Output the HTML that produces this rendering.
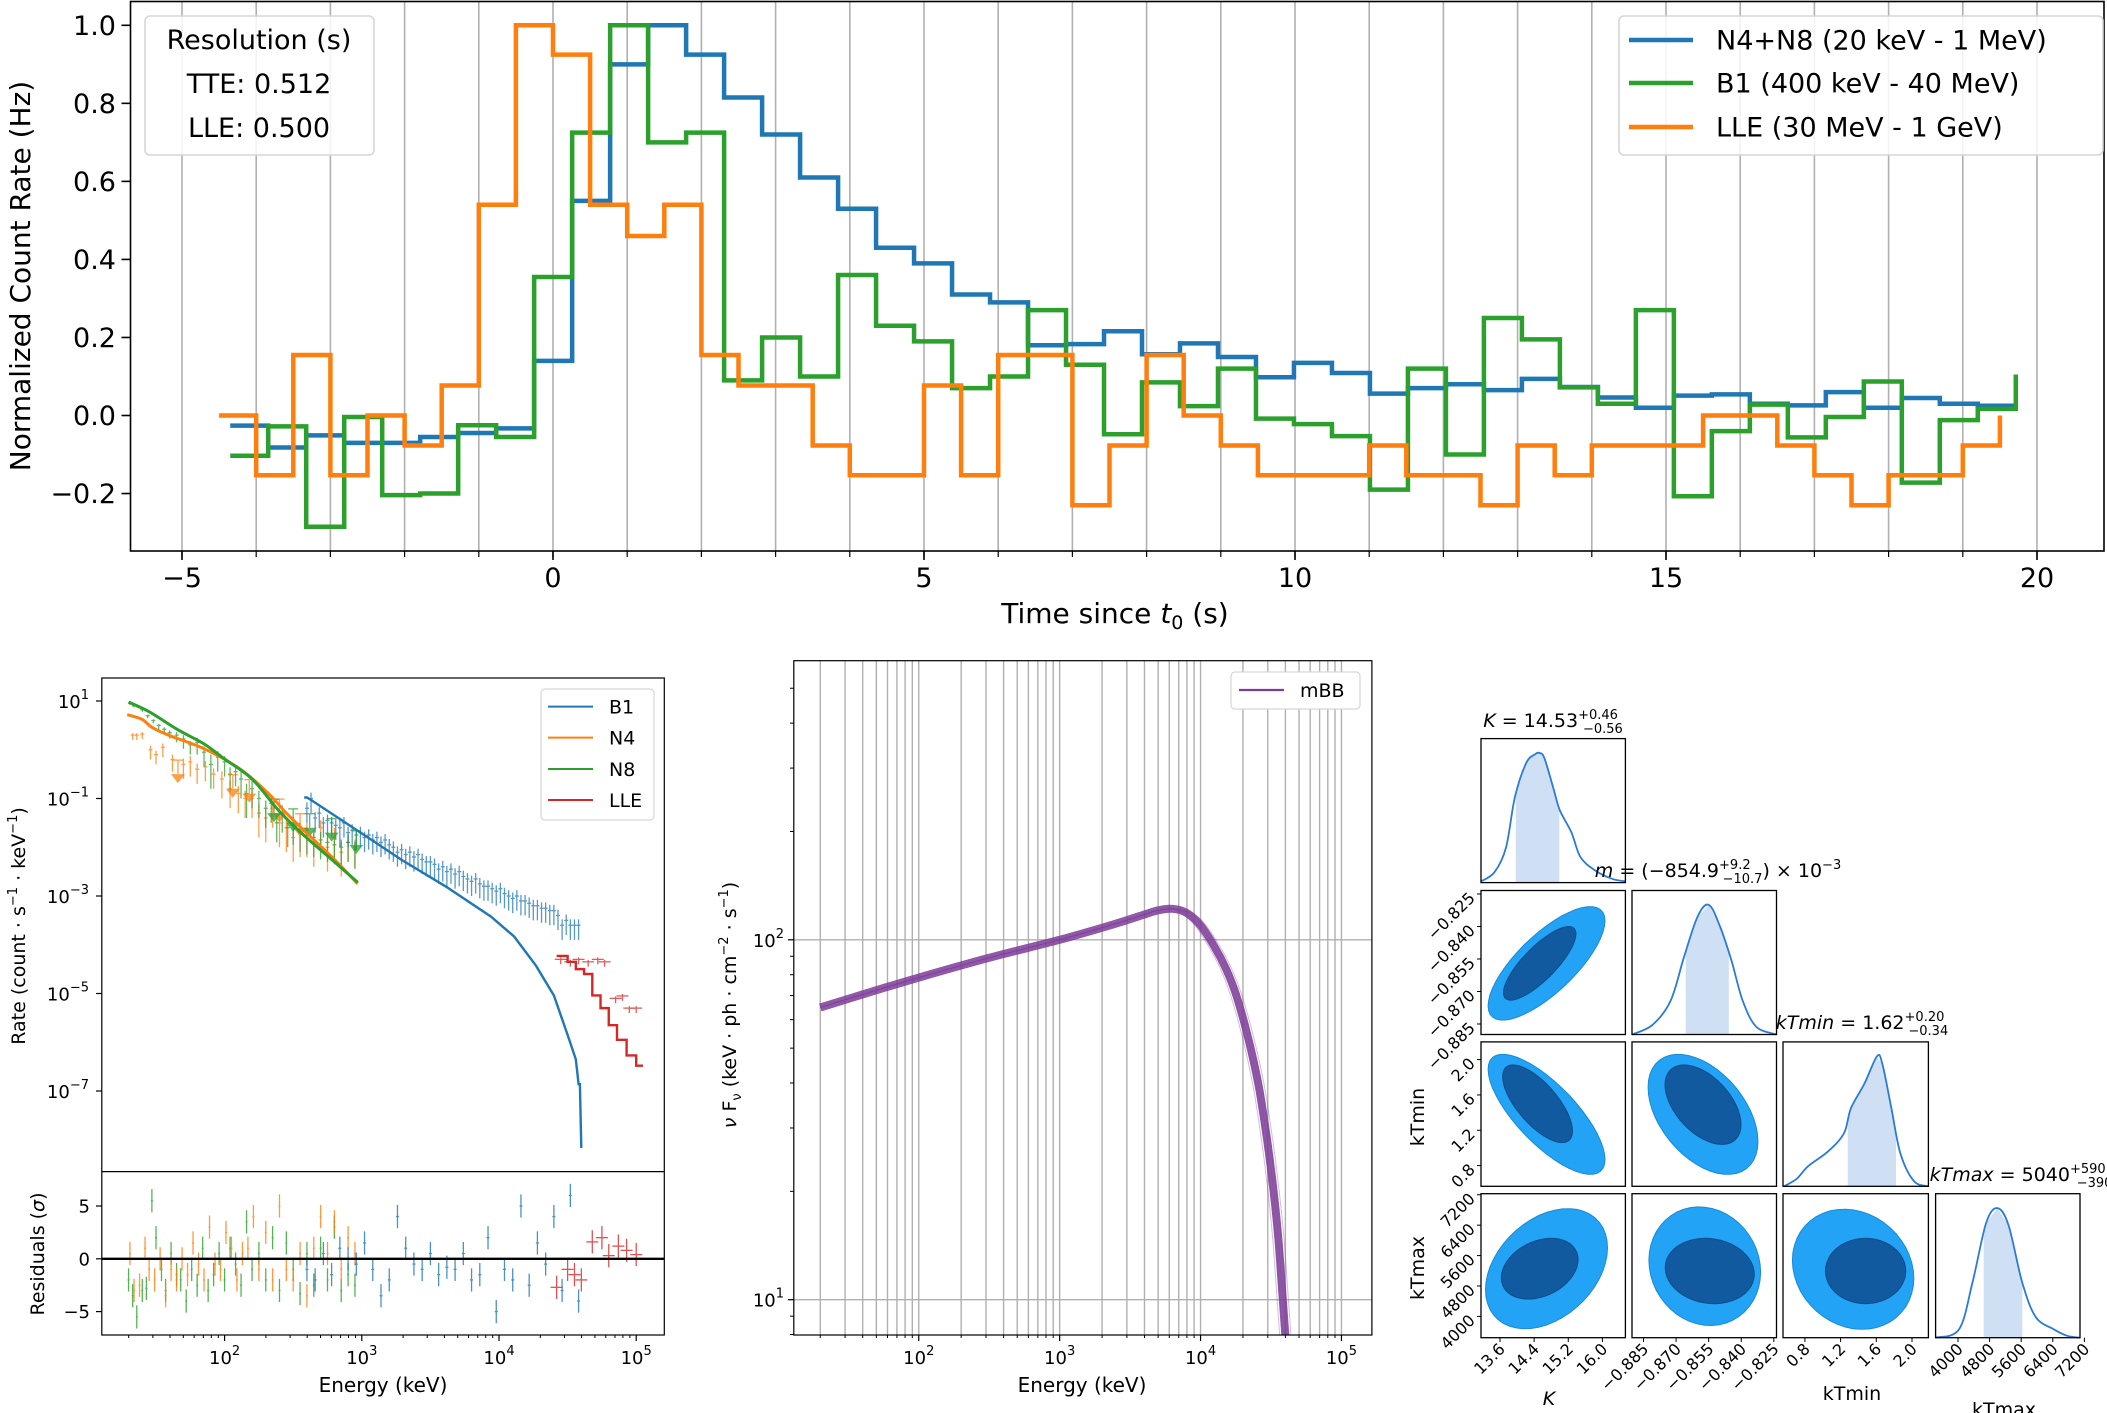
<!DOCTYPE html>
<html><head><meta charset="utf-8"><style>
html,body{margin:0;padding:0;background:#fff;}
svg{display:block;font-family:"DejaVu Sans","Liberation Sans",sans-serif;}
</style></head><body>
<svg id="fig" width="2107" height="1413" viewBox="0 0 2107 1413" xmlns="http://www.w3.org/2000/svg">
<rect width="2107" height="1413" fill="#fff"/>
<defs>
<clipPath id="cTop"><rect x="130.5" y="1.5" width="1973.5" height="549.5"/></clipPath>
<clipPath id="cSpec"><rect x="101.8" y="678" width="562.5" height="493.6"/></clipPath>
<clipPath id="cRes"><rect x="101.8" y="1171.6" width="562.5" height="163.4"/></clipPath>
<clipPath id="cNu"><rect x="793.8" y="660.7" width="578.1" height="674.3"/></clipPath>
</defs>
<g id="topPanel"></g>
<g id="spec"></g>
<g id="nufnu"></g>
<g id="corner"></g>
</svg>
<script>
// ===== Light curve data =====
const tteStart = -4.35, tteWidth = 0.512;
const lleStart = -4.5, lleWidth = 0.5;
const blueVals = [-0.026,-0.082,-0.051,-0.07,-0.07,-0.055,-0.045,-0.033,0.14,0.55,0.90,1.0,0.925,0.815,0.72,0.61,0.53,0.43,0.39,0.31,0.29,0.18,0.183,0.216,0.157,0.185,0.15,0.098,0.135,0.109,0.056,0.07,0.08,0.065,0.094,0.073,0.046,0.02,0.051,0.054,0.03,0.026,0.06,0.02,0.045,0.03,0.025];
const greenVals = [-0.103,-0.028,-0.285,-0.004,-0.204,-0.2,-0.025,-0.055,0.355,0.725,1.0,0.70,0.725,0.09,0.2,0.1,0.36,0.23,0.19,0.07,0.1,0.27,0.13,-0.048,0.085,0.024,0.12,-0.008,-0.022,-0.053,-0.19,0.12,-0.1,0.25,0.195,0.072,0.03,0.27,-0.207,-0.04,0.028,-0.056,-0.004,0.087,-0.172,-0.012,0.017];
const greenEnd = 0.105;
const orangeVals = [0.0,-0.153,0.155,-0.153,0.0,-0.077,0.077,0.54,1.0,0.925,0.54,0.46,0.54,0.155,0.077,0.077,-0.077,-0.153,-0.153,0.077,-0.153,0.155,0.155,-0.23,-0.077,0.155,0.0,-0.077,-0.153,-0.153,-0.153,-0.077,-0.153,-0.153,-0.23,-0.077,-0.153,-0.077,-0.077,-0.077,0.0,0.0,-0.077,-0.153,-0.23,-0.153,-0.153,-0.077];
const orangeEnd = 0.0;
const topXTicks = [-5,0,5,10,15,20];
const topYTicks = [-0.2,0.0,0.2,0.4,0.6,0.8,1.0];

// ===== Count spectrum data (log10 E keV, log10 rate) =====
const n8ModelE = [1.30,1.45,1.66,1.85,2.0,2.2,2.38,2.5,2.64,2.8,2.97];
const n8ModelR = [0.98,0.78,0.41,0.12,-0.19,-0.6,-1.2,-1.55,-1.91,-2.3,-2.72];
const n4ModelE = [1.29,1.40,1.47,1.6,1.86,2.12,2.32,2.45,2.58,2.8,2.97];
const n4ModelR = [0.72,0.62,0.46,0.29,0.01,-0.41,-0.9,-1.3,-1.66,-2.25,-2.75];
const b1ModelE = [2.58,2.60,2.64,2.97,3.29,3.62,3.94,4.11,4.27,4.40,4.50,4.56,4.58,4.59,4.60];
const b1ModelR = [-0.98,-0.98,-1.05,-1.66,-2.26,-2.82,-3.42,-3.83,-4.43,-5.04,-5.85,-6.35,-6.86,-6.86,-8.17];
const lleModelE = [4.42,4.50,4.56,4.62,4.68,4.74,4.80,4.86,4.93,5.0,5.05];
const lleModelR = [-4.23,-4.35,-4.5,-4.6,-5.04,-5.3,-5.65,-5.95,-6.27,-6.48,-6.48];
const n8DataE = [1.31,1.34,1.37,1.40,1.44,1.48,1.52,1.56,1.60,1.65,1.70,1.75,1.80,1.85,1.90,1.95,2.0,2.04,2.08,2.12,2.16,2.2,2.25,2.3,2.34,2.38,2.42,2.46,2.5,2.55,2.6,2.65,2.7,2.75,2.8,2.85,2.9,2.95];
const n8DataR = [0.95,0.9,0.88,0.82,0.7,0.6,0.5,0.42,0.35,0.3,0.22,0.1,0.15,-0.05,-0.3,-0.15,-0.25,-0.5,-0.45,-0.6,-0.9,-0.8,-1.0,-1.2,-1.1,-1.5,-1.3,-1.6,-1.55,-1.7,-1.75,-1.8,-1.85,-1.9,-1.95,-2.0,-1.9,-2.05];
const n8DataErr = [0.03,0.03,0.03,0.04,0.05,0.06,0.08,0.1,0.12,0.15,0.2,0.2,0.25,0.3,0.5,0.3,0.3,0.35,0.3,0.4,0.5,0.4,0.4,0.4,0.4,0.4,0.4,0.4,0.4,0.4,0.4,0.4,0.4,0.4,0.4,0.4,0.4,0.4];
const n4DataE = [1.33,1.36,1.40,1.46,1.50,1.55,1.62,1.70,1.75,1.8,1.86,1.92,1.98,2.04,2.1,2.15,2.2,2.25,2.3,2.35,2.4,2.45,2.5,2.55,2.6,2.65,2.7,2.75,2.8,2.85,2.9,2.95];
const n4DataR = [0.3,0.3,0.32,0.0,-0.1,0.05,-0.2,-0.3,-0.25,-0.4,-0.35,-0.5,-0.6,-0.8,-0.9,-1.0,-1.0,-1.3,-1.4,-1.2,-1.5,-1.6,-1.8,-1.7,-1.7,-1.9,-1.6,-2.0,-1.8,-2.1,-1.9,-2.0];
const n4DataErr = [0.1,0.1,0.1,0.2,0.2,0.2,0.25,0.3,0.3,0.3,0.3,0.3,0.4,0.4,0.4,0.4,0.4,0.5,0.5,0.4,0.5,0.5,0.5,0.5,0.5,0.5,0.4,0.5,0.5,0.5,0.4,0.4];
const n4LimE = [1.66,2.06,2.18,2.4,2.55];
const n4LimR = [-0.5,-0.8,-0.9,-1.3,-1.6];
const n8LimE = [2.36,2.5,2.62,2.78,2.96];
const n8LimR = [-1.3,-1.5,-1.6,-1.7,-1.95];
const b1DataE = [2.6,2.63,2.66,2.69,2.72,2.75,2.78,2.81,2.84,2.87,2.9,2.93,2.96,2.99,3.02,3.05,3.08,3.11,3.14,3.17,3.2,3.23,3.26,3.29,3.32,3.35,3.38,3.41,3.44,3.47,3.5,3.53,3.56,3.59,3.62,3.65,3.68,3.71,3.74,3.77,3.8,3.83,3.86,3.89,3.92,3.95,3.98,4.01,4.04,4.07,4.1,4.13,4.16,4.19,4.22,4.25,4.28,4.31,4.34,4.37,4.4,4.43,4.46,4.49,4.52,4.55,4.58];
const b1DataR = [-1.2,-1.0,-1.4,-1.3,-1.5,-1.45,-1.5,-1.55,-1.6,-1.5,-1.7,-1.65,-1.75,-1.7,-1.8,-1.75,-1.85,-1.8,-1.9,-1.85,-1.95,-2.0,-2.1,-2.05,-2.15,-2.1,-2.2,-2.15,-2.25,-2.3,-2.3,-2.35,-2.45,-2.4,-2.5,-2.45,-2.55,-2.5,-2.6,-2.65,-2.7,-2.65,-2.75,-2.8,-2.8,-2.85,-2.9,-2.85,-2.95,-3.0,-3.05,-3.0,-3.1,-3.1,-3.15,-3.2,-3.2,-3.25,-3.25,-3.3,-3.3,-3.4,-3.6,-3.5,-3.6,-3.6,-3.6];
const b1DataErr = [0.3,0.3,0.3,0.3,0.3,0.3,0.3,0.3,0.4,0.3,0.3,0.3,0.3,0.3,0.3,0.3,0.3,0.3,0.3,0.3,0.3,0.3,0.3,0.3,0.3,0.3,0.3,0.3,0.3,0.3,0.3,0.3,0.3,0.3,0.3,0.3,0.3,0.3,0.3,0.3,0.3,0.3,0.3,0.3,0.3,0.3,0.3,0.3,0.3,0.3,0.3,0.3,0.3,0.3,0.3,0.3,0.3,0.3,0.3,0.3,0.3,0.3,0.3,0.3,0.3,0.3,0.3];
const lleDataE = [4.45,4.52,4.58,4.65,4.72,4.77,4.85,4.9,4.95,5.0];
const lleDataR = [-4.3,-4.35,-4.3,-4.35,-4.3,-4.35,-5.1,-5.05,-5.3,-5.3];
const resTicks = [5,0,-5];
const specYTicks = [1,-1,-3,-5,-7];
const specXTicks = [2,3,4,5];
const resGreenE = [1.30,1.33,1.36,1.40,1.43,1.47,1.50,1.54,1.57,1.61,1.65,1.68,1.72,1.76,1.80,1.84,1.88,1.92,1.96,2.0,2.04,2.08,2.12,2.16,2.2,2.25,2.3,2.35,2.4,2.45,2.5,2.55,2.6,2.65,2.7,2.75,2.8,2.85,2.9,2.95];
const resGreenV = [-2,-3.5,-5.5,-3,-2.8,5.5,2,-1,-3,0.5,-1.5,-2,-4,-1,-2.5,1,-3,-1.5,0.5,-2,1,-0.5,-2.5,3.5,-1,0.5,-2,2,-3,1.5,-1,-3.3,0.5,-2.5,1,-2,3,-3,-1.5,-2.5];
const resOrangeE = [1.31,1.34,1.38,1.42,1.45,1.49,1.53,1.57,1.61,1.65,1.69,1.73,1.77,1.81,1.85,1.89,1.93,1.97,2.01,2.05,2.09,2.13,2.17,2.21,2.25,2.3,2.35,2.4,2.45,2.5,2.55,2.6,2.65,2.7,2.75,2.8,2.85,2.9,2.95];
const resOrangeV = [0.5,-3,-2.5,1,-1,-2,0,-3.5,-1,-2,0,-1.5,1.5,-0.5,-2,3,-0.5,-1,2.5,1,-2,0.5,1,4,-1,2.5,-2,5,-1,-2,0.5,-3.5,1,4,0.5,3.5,-1,2,0.5];
const resBlueE = [2.6,2.66,2.72,2.78,2.84,2.9,2.96,3.02,3.08,3.14,3.2,3.26,3.32,3.38,3.44,3.5,3.56,3.62,3.68,3.74,3.8,3.86,3.92,3.98,4.04,4.1,4.16,4.22,4.28,4.34,4.4,4.46,4.52,4.58];
const resBlueV = [-1,-2,0.5,-1.5,1,0,-0.5,1.5,-1,-3.5,-2,4,1,-0.5,-1,0.5,-1.5,-0.8,-1,0.5,-2,-1.5,2,-5,-1,-2,5,-2.5,1.5,-0.5,4,-3,6,-4];
const resRedE = [4.42,4.5,4.55,4.6,4.68,4.75,4.8,4.87,4.93,5.0];
const resRedV = [-2.7,-1,-1.5,-2.0,1.6,2.0,0.3,1.2,0.8,0.4];

// ===== nuFnu data =====
const mbbE = [1.301,1.6,2.0,2.5,3.0,3.4,3.6,3.7,3.8,3.9,4.0,4.1,4.18,4.25,4.33,4.41,4.47,4.51,4.55,4.58,4.62];
const mbbF = [1.812,1.848,1.895,1.95,2.0,2.045,2.07,2.082,2.086,2.075,2.04,1.98,1.92,1.85,1.74,1.6,1.45,1.33,1.18,1.02,0.8];
const mbbSpread = [-0.04,-0.02,0.0,0.02,0.04];
const nuYTicks = [1,2];
const nuXTicks = [2,3,4,5];

// ===== Corner plot data =====
const kHistX = [13.16,13.47,13.74,13.95,14.21,14.42,14.53,14.64,14.85,15.0,15.27,15.48,15.80,16.22,16.54];
const kHistY = [0.01,0.08,0.27,0.66,0.92,0.99,1.0,0.96,0.73,0.56,0.39,0.2,0.1,0.03,0.01];
const kBand = [13.97,14.99];
const mHistX = [-0.8902,-0.8808,-0.8725,-0.8663,-0.8601,-0.8549,-0.8497,-0.8445,-0.8393,-0.8331,-0.8237];
const mHistY = [0,0.075,0.26,0.6,0.91,1.0,0.83,0.57,0.26,0.06,0];
const mBand = [-0.8656,-0.8457];
const tminHistX = [0.567,0.708,0.835,1.062,1.239,1.315,1.467,1.608,1.668,1.769,1.871,2.022,2.184];
const tminHistY = [0,0.058,0.154,0.27,0.41,0.6,0.79,1.0,0.94,0.6,0.25,0.04,0];
const tminBand = [1.28,1.82];
const tmaxHistX = [3433,4028,4370,4712,4998,5281,5625,5967,6423,6765,7089];
const tmaxHistY = [0,0.065,0.43,0.885,1.0,0.866,0.427,0.16,0.065,0.015,0];
const tmaxBand = [4650,5630];
const ctKM = [[14.69,-0.857,1.37,0.0262,0.75],[14.53,-0.857,0.85,0.017,0.8]];
const ctKTmin = [[14.69,1.38,1.37,0.68,-0.75],[14.48,1.50,0.82,0.44,-0.7]];
const ctKTmax = [[14.69,5255,1.43,1580,0.35],[14.53,5255,0.9,800,0.3]];
const ctMTmin = [[-0.8576,1.38,0.0253,0.68,-0.45],[-0.8576,1.49,0.0175,0.45,-0.5]];
const ctMTmax = [[-0.8568,5321,0.0257,1560,-0.1],[-0.8545,5195,0.0205,860,-0.1]];
const ctTminTmax = [[1.34,5240,0.68,1580,-0.15],[1.48,5195,0.45,860,0.0]];
const kTicks = [13.6,14.4,15.2,16.0];
const mTicks = [-0.885,-0.870,-0.855,-0.840,-0.825];
const tminTicks = [0.8,1.2,1.6,2.0];
const tmaxTicks = [4000,4800,5600,6400,7200];

// ===== helpers =====
const NS = "http://www.w3.org/2000/svg";
function el(tag, attrs, parent){const e=document.createElementNS(NS,tag);for(const k in attrs)e.setAttribute(k,attrs[k]);if(parent)parent.appendChild(e);return e;}
function fmtMinus(s){return String(s).replace('-','\u2212');}
function txt(parent, x, y, s, size, anchor, extra){const t=el('text',Object.assign({x:x,y:y,'font-size':size,'text-anchor':anchor||'middle',fill:'#000'},extra||{}),parent);t.textContent=s;return t;}
function smooth(xs,ys,fx,fy){
  const P = xs.map((x,i)=>[fx(x),fy(ys[i])]);
  let d='M'+P[0][0].toFixed(1)+','+P[0][1].toFixed(1);
  for(let i=0;i<P.length-1;i++){
    const p0=P[Math.max(0,i-1)],p1=P[i],p2=P[i+1],p3=P[Math.min(P.length-1,i+2)];
    const c1=[p1[0]+(p2[0]-p0[0])/6,p1[1]+(p2[1]-p0[1])/6];
    const c2=[p2[0]-(p3[0]-p1[0])/6,p2[1]-(p3[1]-p1[1])/6];
    d+=` C${c1[0].toFixed(1)},${c1[1].toFixed(1)} ${c2[0].toFixed(1)},${c2[1].toFixed(1)} ${p2[0].toFixed(1)},${p2[1].toFixed(1)}`;
  }
  return d;
}

// ===== TOP PANEL =====
const topG = document.getElementById('topPanel');
const TX = t => 553 + 74.2*t;
const TY = v => 415.5 - 390.2*v;
const gridG = el('g',{},topG);


for(let t=-5;t<=20;t++){
  el('line',{x1:TX(t),x2:TX(t),y1:1.5,y2:551,stroke:'#b0b0b0','stroke-width':1.6},gridG);
  el('line',{x1:TX(t),x2:TX(t),y1:551,y2:557,stroke:'#000','stroke-width':1.2},topG);
}
function stepPath(start,w,vals,end){
  let d = 'M'+TX(start)+','+TY(vals[0]);
  for(let i=0;i<vals.length;i++){
    d += ' H'+TX(start+(i+1)*w);
    if(i+1<vals.length) d += ' V'+TY(vals[i+1]);
  }
  if(end!==undefined) d += ' V'+TY(end);
  return d;
}
const linesG = el('g',{'clip-path':'url(#cTop)'},topG);
const pBlue = el('path',{d:stepPath(tteStart,tteWidth,blueVals),fill:'none',stroke:'#1f77b4','stroke-width':4.5},linesG);


const pGreen = el('path',{d:stepPath(tteStart,tteWidth,greenVals,greenEnd),fill:'none',stroke:'#2ca02c','stroke-width':4.5},linesG);


const pOrange = el('path',{d:stepPath(lleStart,lleWidth,orangeVals,orangeEnd),fill:'none',stroke:'#ff7f0e','stroke-width':4.5},linesG);


el('rect',{x:130.5,y:1.5,width:1973.5,height:549.5,fill:'none',stroke:'#000','stroke-width':1.6},topG);
topXTicks.forEach(t=>{
  el('line',{x1:TX(t),x2:TX(t),y1:551,y2:560,stroke:'#000','stroke-width':1.6},topG);
  const lab = txt(topG,TX(t),587,fmtMinus(t),27);
  
  
});
topYTicks.forEach(v=>{
  el('line',{x1:121.5,x2:130.5,y1:TY(v),y2:TY(v),stroke:'#000','stroke-width':1.6},topG);
  const lab = txt(topG,116,TY(v)+9.5,fmtMinus(v.toFixed(1)),27,'end');
  
  
});
const xt = el('text',{x:1115,y:623,'font-size':28,'text-anchor':'middle'},topG);


xt.innerHTML = 'Time since <tspan font-style="italic">t</tspan><tspan font-size="19" dy="6">0</tspan><tspan dy="-6"> (s)</tspan>';
const yt = txt(topG,0,0,'Normalized Count Rate (Hz)',28,'middle',{transform:'translate(30,276) rotate(-90)'});


const resBox = el('g',{},topG);


el('rect',{x:145,y:16,width:229,height:139,rx:5,fill:'#fff','fill-opacity':0.85,stroke:'#d6d6d6','stroke-width':1.6},resBox);
txt(resBox,259,49,'Resolution (s)',27);
txt(resBox,259,93,'TTE: 0.512',27);
txt(resBox,259,137,'LLE: 0.500',27);
const leg = el('g',{},topG);


el('rect',{x:1619,y:16,width:484,height:139,rx:5,fill:'#fff','fill-opacity':0.85,stroke:'#d6d6d6','stroke-width':1.6},leg);
[['N4+N8 (20 keV - 1 MeV)','#1f77b4',40],['B1 (400 keV - 40 MeV)','#2ca02c',83],['LLE (30 MeV - 1 GeV)','#ff7f0e',127]].forEach(([s,c,y])=>{
  const g = el('g',{},leg);
  
  
  el('line',{x1:1629,x2:1693,y1:y,y2:y,stroke:c,'stroke-width':4.5},g);
  txt(g,1716,y+9.5,s,27,'start');
});

// ===== SPECTRUM PANEL =====
const sp = document.getElementById('spec');
const PX = e => 224.6 + 137.2*(e-2);
const PY = r => 701 - 48.75*(r-1);
const RY = v => 1258.8 - 10.56*v;
function poly(xs,ys,fx,fy){return xs.map((x,i)=>(i?'L':'M')+fx(x).toFixed(1)+','+fy(ys[i]).toFixed(1)).join(' ');}
function stepPoly(xs,ys,fx,fy){let d='M'+fx(xs[0])+','+fy(ys[0]);for(let i=1;i<xs.length;i++){d+=' H'+fx(xs[i])+' V'+fy(ys[i]);}return d;}
const sg = el('g',{'clip-path':'url(#cSpec)'},sp);
function errPts(parent, xs, ys, errs, color, name, cap){
  const g = el('g',{stroke:color,'stroke-width':1.3,opacity:0.75},parent);
  
  
  xs.forEach((x,i)=>{
    const e = errs ? errs[i] : 0.1;
    el('line',{x1:PX(x),x2:PX(x),y1:PY(ys[i]+e*0.4),y2:PY(ys[i]-e)},g);
    el('line',{x1:PX(x)-cap,x2:PX(x)+cap,y1:PY(ys[i]),y2:PY(ys[i])},g);
  });
}
function limPts(parent, xs, ys, color, name){
  const g = el('g',{fill:color,stroke:color,opacity:0.75},parent);
  
  
  xs.forEach((x,i)=>{
    const X=PX(x),Y=PY(ys[i]);
    el('line',{x1:X,x2:X,y1:Y-14,y2:Y,'stroke-width':1.3},g);
    el('line',{x1:X-5,x2:X+5,y1:Y-14,y2:Y-14,'stroke-width':1.3},g);
    el('path',{d:`M${X-7},${Y} L${X+7},${Y} L${X},${Y+9} Z`,stroke:'none'},g);
  });
}
errPts(sg,n4DataE,n4DataR,n4DataErr,'#ff7f0e','n4-data-points',2);
errPts(sg,n8DataE,n8DataR,n8DataErr,'#2ca02c','n8-data-points',2);
errPts(sg,b1DataE,b1DataR,b1DataErr,'#1f77b4','b1-data-points',2);
errPts(sg,lleDataE,lleDataR,null,'#d62728','lle-data-points',6);
limPts(sg,n4LimE,n4LimR,'#ff7f0e','n4-upper-limits');
limPts(sg,n8LimE,n8LimR,'#2ca02c','n8-upper-limits');
const m1 = el('path',{d:smooth(n4ModelE,n4ModelR,PX,PY),fill:'none',stroke:'#ff7f0e','stroke-width':3},sg);


const m2 = el('path',{d:smooth(n8ModelE,n8ModelR,PX,PY),fill:'none',stroke:'#2ca02c','stroke-width':3},sg);


const m3 = el('path',{d:poly(b1ModelE,b1ModelR,PX,PY),fill:'none',stroke:'#1f77b4','stroke-width':2.4},sg);


const m4 = el('path',{d:stepPoly(lleModelE,lleModelR,PX,PY),fill:'none',stroke:'#d62728','stroke-width':2.4},sg);


el('rect',{x:101.8,y:678,width:562.5,height:657,fill:'none',stroke:'#000','stroke-width':1.2},sp);
el('line',{x1:101.8,x2:664.3,y1:1171.6,y2:1171.6,stroke:'#000','stroke-width':1.2},sp);
specYTicks.forEach(p=>{
  el('line',{x1:96,x2:101.8,y1:PY(p),y2:PY(p),stroke:'#000','stroke-width':1.2},sp);
  const t = el('text',{x:89,y:PY(p)+7,'font-size':18,'text-anchor':'end'},sp);
  
  
  t.innerHTML = '10<tspan font-size="13" dy="-9">'+fmtMinus(p)+'</tspan>';
});
for(let d=1;d<5;d++){for(let k=2;k<10;k++){const x=PX(d+Math.log10(k)); if(x>101.8&&x<664.3) el('line',{x1:x,x2:x,y1:1335,y2:1338,stroke:'#000','stroke-width':1},sp);}}
specXTicks.forEach(p=>{
  el('line',{x1:PX(p),x2:PX(p),y1:1335,y2:1341,stroke:'#000','stroke-width':1.2},sp);
  const t = el('text',{x:PX(p),y:1364,'font-size':18,'text-anchor':'middle'},sp);
  
  
  t.innerHTML = '10<tspan font-size="13" dy="-9">'+p+'</tspan>';
});
const rg = el('g',{'clip-path':'url(#cRes)'},sp);
function resPts(xs,vs,color,name,cap,e){
  const g = el('g',{stroke:color,'stroke-width':1.3,opacity:0.8},rg);
  
  
  xs.forEach((x,i)=>{
    el('line',{x1:PX(x),x2:PX(x),y1:RY(vs[i]+e),y2:RY(vs[i]-e)},g);
    el('line',{x1:PX(x)-cap,x2:PX(x)+cap,y1:RY(vs[i]),y2:RY(vs[i])},g);
  });
}
resPts(resGreenE,resGreenV,'#2ca02c','n8-residuals',1,1.1);
resPts(resOrangeE,resOrangeV,'#ff7f0e','n4-residuals',1,1.1);
resPts(resBlueE,resBlueV,'#1f77b4','b1-residuals',1.5,1.1);
resPts(resRedE,resRedV,'#d62728','lle-residuals',6,1.1);
el('line',{x1:101.8,x2:664.3,y1:RY(0),y2:RY(0),stroke:'#000','stroke-width':2.4},sp);
resTicks.forEach(v=>{
  el('line',{x1:96,x2:101.8,y1:RY(v),y2:RY(v),stroke:'#000','stroke-width':1.2},sp);
  const t = txt(sp,90,RY(v)+6.5,fmtMinus(v),18,'end');
  
  
});
const sxl = txt(sp,383,1392,'Energy (keV)',20);


const syl = el('text',{'font-size':19,'text-anchor':'middle',transform:'translate(25,926) rotate(-90)'},sp);


syl.innerHTML = 'Rate (count · s<tspan font-size="13" dy="-8">−1</tspan><tspan dy="8"> · keV</tspan><tspan font-size="13" dy="-8">−1</tspan><tspan dy="8">)</tspan>';
const ryl = el('text',{'font-size':19,'text-anchor':'middle',transform:'translate(44,1254) rotate(-90)'},sp);


ryl.innerHTML = 'Residuals (<tspan font-style="italic">σ</tspan>)';
const sleg = el('g',{},sp);


el('rect',{x:541,y:689,width:113,height:131,rx:4,fill:'#fff',stroke:'#d6d6d6','stroke-width':1.2},sleg);
[['B1','#1f77b4',706.6],['N4','#ff7f0e',737.6],['N8','#2ca02c',769],['LLE','#d62728',800]].forEach(([s,c,y])=>{
  const g = el('g',{},sleg);
  
  
  el('line',{x1:548,x2:593,y1:y,y2:y,stroke:c,'stroke-width':2},g);
  txt(g,609,y+7,s,19,'start');
});

// ===== NUFNU PANEL =====
const nu = document.getElementById('nufnu');
const QX = e => 918.75 + 140.9*(e-2);
const QY = f => 939.8 - 359.9*(f-2);
const ng = el('g',{'clip-path':'url(#cNu)'},nu);
const ngrid = el('g',{stroke:'#b0b0b0','stroke-width':1.4},ng);


for(let d=1;d<5;d++){for(let k=1;k<10;k++){const lg=d+Math.log10(k); if(lg>=1.3) el('line',{x1:QX(lg),x2:QX(lg),y1:660.7,y2:1335},ngrid);}}
el('line',{x1:QX(5),x2:QX(5),y1:660.7,y2:1335},ngrid);
nuYTicks.forEach(p=>el('line',{x1:793.8,x2:1371.9,y1:QY(p),y2:QY(p)},ngrid));
const bandG = el('g',{},ng);


mbbSpread.forEach(s=>{
  el('path',{d:smooth(mbbE.map(e=>e>3.85?e+s:e),mbbF,QX,QY),fill:'none',stroke:'#7d3c98','stroke-width':1,'stroke-opacity':0.35},bandG);
});
el('path',{d:smooth(mbbE,mbbF,QX,QY),fill:'none',stroke:'#7d3c98','stroke-width':8,'stroke-opacity':0.85,'stroke-linejoin':'round'},bandG);
el('rect',{x:793.8,y:660.7,width:578.1,height:674.3,fill:'none',stroke:'#000','stroke-width':1.2},nu);
for(let d=0;d<3;d++){for(let k=2;k<10;k++){const lg=d+Math.log10(k); const y=QY(lg); if(y>660.7&&y<1335) el('line',{x1:790,x2:793.8,y1:y,y2:y,stroke:'#000','stroke-width':1},nu);}}
nuYTicks.forEach(p=>{
  el('line',{x1:788,x2:793.8,y1:QY(p),y2:QY(p),stroke:'#000','stroke-width':1.2},nu);
  const t = el('text',{x:784,y:QY(p)+7,'font-size':18,'text-anchor':'end'},nu);
  
  
  t.innerHTML = '10<tspan font-size="13" dy="-9">'+p+'</tspan>';
});
for(let d=1;d<5;d++){for(let k=2;k<10;k++){const x=QX(d+Math.log10(k)); if(x>793.8&&x<1371.9) el('line',{x1:x,x2:x,y1:1335,y2:1338,stroke:'#000','stroke-width':1},nu);}}
nuXTicks.forEach(p=>{
  el('line',{x1:QX(p),x2:QX(p),y1:1335,y2:1341,stroke:'#000','stroke-width':1.2},nu);
  const t = el('text',{x:QX(p),y:1364,'font-size':18,'text-anchor':'middle'},nu);
  
  
  t.innerHTML = '10<tspan font-size="13" dy="-9">'+p+'</tspan>';
});
const nxl = txt(nu,1082,1392,'Energy (keV)',20);


const nyl = el('text',{'font-size':19,'text-anchor':'middle',transform:'translate(736,1005) rotate(-90)'},nu);


nyl.innerHTML = '<tspan font-style="italic">ν</tspan> F<tspan font-size="13" dy="5">ν</tspan><tspan dy="-5"> (keV · ph · cm</tspan><tspan font-size="13" dy="-8">−2</tspan><tspan dy="8"> · s</tspan><tspan font-size="13" dy="-8">−1</tspan><tspan dy="8">)</tspan>';
const nleg = el('g',{},nu);


el('rect',{x:1231,y:672,width:129,height:37,rx:4,fill:'#fff',stroke:'#d6d6d6','stroke-width':1.2},nleg);
el('line',{x1:1239,x2:1284,y1:690,y2:690,stroke:'#7d3c98','stroke-width':2.2},nleg);
txt(nleg,1300,697,'mBB',19,'start');

// ===== CORNER PLOT =====
const cp = document.getElementById('corner');
const cols = [[1481,1625.4],[1632,1776.5],[1783,1928.4],[1935.6,2080]];
const rows = [[738.6,882.6],[890.5,1034.5],[1041.9,1186.3],[1193.7,1337.7]];
const axK = x => 1500 + (x-13.6)*42.67;
const axM = x => 1643.5 + (x+0.885)*2171.7;
const axTmin = x => 1804.9 + (x-0.8)*89.25;
const axTmax = x => 1958 + (x-4000)*0.0395;
const ayM = y => 894 - (y+0.825)/0.0004615;
const ayTmin = y => 1059.6 + (2.0-y)/0.01132;
const ayTmax = y => 1286 - (y-4800)/26.3;
const colMaps = [axK,axM,axTmin,axTmax];
const rowMaps = [null,ayM,ayTmin,ayTmax];
function hist(ci, xs, ys, bnd, name){
  const fx = colMaps[ci], r = rows[ci];
  const fy = v => r[1] - v*(r[1]-r[0])*0.9;
  const g = el('g',{},cp);
  
  
  const bx = [], by = [];
  for(let i=0;i<xs.length;i++){ if(xs[i]>bnd[0]&&xs[i]<bnd[1]){bx.push(xs[i]);by.push(ys[i]);} }
  const interp = x => {for(let i=1;i<xs.length;i++){if(x<=xs[i]){const f=(x-xs[i-1])/(xs[i]-xs[i-1]);return ys[i-1]+f*(ys[i]-ys[i-1]);}}return 0;};
  let d = 'M'+fx(bnd[0])+','+r[1]+' L'+fx(bnd[0])+','+fy(interp(bnd[0]));
  bx.forEach((x,i)=>{d+=' L'+fx(x)+','+fy(by[i]);});
  d += ' L'+fx(bnd[1])+','+fy(interp(bnd[1]))+' L'+fx(bnd[1])+','+r[1]+' Z';
  el('path',{d:d,fill:'#cfe0f4'},g);
  el('path',{d:smooth(xs,ys,fx,fy),fill:'none',stroke:'#2b7bd6','stroke-width':1.8,'stroke-linejoin':'round'},g);
}
function ellipsePath(p,fx,fy){
  let d='';
  for(let i=0;i<=48;i++){const t=i/48*2*Math.PI;const x=p[0]+p[2]*Math.cos(t);const y=p[1]+p[3]*(p[4]*Math.cos(t)+Math.sqrt(1-p[4]*p[4])*Math.sin(t));d+=(i?'L':'M')+fx(x).toFixed(1)+','+fy(y).toFixed(1);}
  return d+'Z';
}
function contour(ci, ri, ct, name){
  const g = el('g',{},cp);
  
  
  el('path',{d:ellipsePath(ct[0],colMaps[ci],rowMaps[ri]),fill:'#22a3f5',stroke:'#1b8ad6','stroke-width':1},g);
  el('path',{d:ellipsePath(ct[1],colMaps[ci],rowMaps[ri]),fill:'#125aa0',stroke:'#0f4d8a','stroke-width':1},g);
}
hist(0,kHistX,kHistY,kBand,'k-posterior-hist');
hist(1,mHistX,mHistY,mBand,'m-posterior-hist');
hist(2,tminHistX,tminHistY,tminBand,'ktmin-posterior-hist');
hist(3,tmaxHistX,tmaxHistY,tmaxBand,'ktmax-posterior-hist');
contour(0,1,ctKM,'k-m-contour');
contour(0,2,ctKTmin,'k-ktmin-contour');
contour(0,3,ctKTmax,'k-ktmax-contour');
contour(1,2,ctMTmin,'m-ktmin-contour');
contour(1,3,ctMTmax,'m-ktmax-contour');
contour(2,3,ctTminTmax,'ktmin-ktmax-contour');
for(let r=0;r<4;r++){for(let c=0;c<=r;c++){
  const b = el('rect',{x:cols[c][0],y:rows[r][0],width:cols[c][1]-cols[c][0],height:rows[r][1]-rows[r][0],fill:'none',stroke:'#000','stroke-width':1.3},cp);
  
  
}}
function xTickLabels(ci, ticks, fmt){
  const fx = colMaps[ci];
  ticks.forEach(v=>{
    const x=fx(v);
    el('line',{x1:x,x2:x,y1:1337.7,y2:1342,stroke:'#000','stroke-width':1},cp);
    const t = txt(cp,0,0,fmtMinus(fmt(v)),16,'end',{transform:`translate(${x+6},${1350}) rotate(-45)`});
    
    
  });
}
xTickLabels(0,kTicks,v=>v.toFixed(1));
xTickLabels(1,mTicks,v=>v.toFixed(3));
xTickLabels(2,tminTicks,v=>v.toFixed(1));
xTickLabels(3,tmaxTicks,v=>String(v));
function yTickLabels(ri, ticks, fmt){
  const fy = rowMaps[ri];
  ticks.forEach(v=>{
    const y=fy(v);
    el('line',{x1:1477,x2:1481,y1:y,y2:y,stroke:'#000','stroke-width':1},cp);
    const t = txt(cp,0,0,fmtMinus(fmt(v)),16,'end',{transform:`translate(${1476},${y+5}) rotate(-45)`});
    
    
  });
}
yTickLabels(1,mTicks,v=>v.toFixed(3));
yTickLabels(2,tminTicks,v=>v.toFixed(1));
yTickLabels(3,tmaxTicks,v=>String(v));
[['K',1549,1405,true],['kTmin',1852,1400,false],['kTmax',2004,1416,false]].forEach(([s,x,y,it])=>{
  const t = txt(cp,x,y,s,19,'middle',it?{'font-style':'italic'}:{});
  
  
});
[['kTmin',1117],['kTmax',1268]].forEach(([s,y])=>{
  const t = txt(cp,0,0,s,19,'middle',{transform:`translate(1424,${y}) rotate(-90)`});
  
  
});
function postTitle(x,y,html){const t=el('text',{x:x,y:y,'font-size':19,'text-anchor':'middle'},cp);t.innerHTML=html;}
postTitle(1553,727,'<tspan font-style="italic">K</tspan> = 14.53<tspan font-size="13" dy="-8">+0.46</tspan><tspan font-size="13" dx="-35" dy="14">−0.56</tspan>');
postTitle(1718,877,'<tspan font-style="italic">m</tspan> = (−854.9<tspan font-size="13" dy="-8">+9.2</tspan><tspan font-size="13" dx="-28" dy="14">−10.7</tspan><tspan dy="-6">) × 10</tspan><tspan font-size="13" dy="-8">−3</tspan>');
postTitle(1862,1029,'<tspan font-style="italic">kTmin</tspan> = 1.62<tspan font-size="13" dy="-8">+0.20</tspan><tspan font-size="13" dx="-36" dy="14">−0.34</tspan>');
postTitle(2021,1181,'<tspan font-style="italic">kTmax</tspan> = 5040<tspan font-size="13" dy="-8">+590</tspan><tspan font-size="13" dx="-29" dy="14">−390</tspan>');
</script>
</body></html>
